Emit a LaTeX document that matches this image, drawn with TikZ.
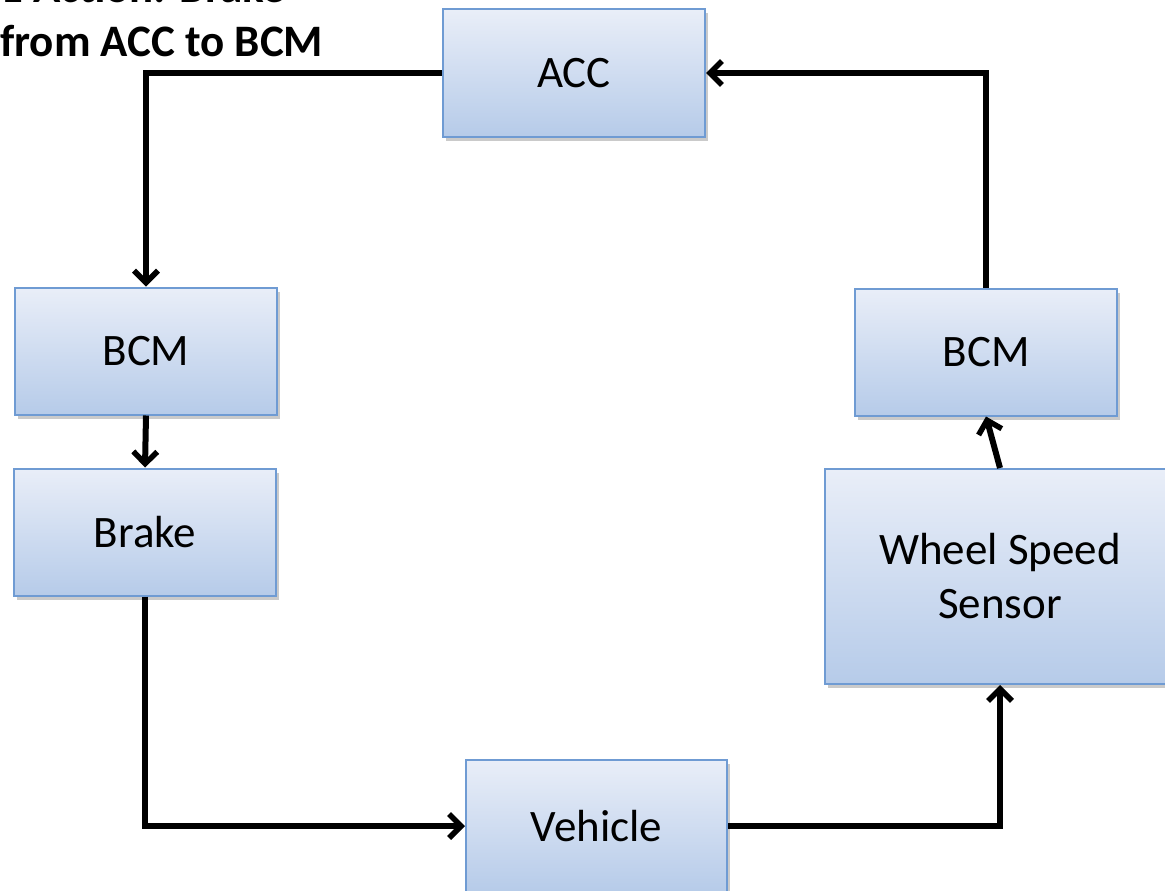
\documentclass[tikz,border=0pt]{standalone}
\usepackage{fontspec}
\setmainfont{Carlito}
\usetikzlibrary{arrows.meta,shadows}
\definecolor{boxtop}{HTML}{E9EEF8}
\definecolor{boxbot}{HTML}{B6CBE9}
\definecolor{boxline}{HTML}{6F9BD3}
\tikzset{
  block/.style={draw=boxline, line width=2pt, top color=boxtop, bottom color=boxbot,
    minimum width=262pt, minimum height=127pt, inner sep=0pt, align=center,
    font=\fontsize{45}{54}\selectfont,
    drop shadow={shadow xshift=3pt, shadow yshift=-4pt, opacity=0.35, fill=black!60}},
  flow/.style={line width=6pt, line join=miter, draw=black,
    -{Straight Barb[length=12pt,width=24pt,line width=5.5pt]}},
  heading/.style={anchor=base west, inner sep=0pt, font=\fontsize{45}{54}\selectfont\bfseries}
}
\begin{document}
\begin{tikzpicture}[x=1pt, y=-1pt]
  \useasboundingbox (0,0) rectangle (1165,891);
  \clip (0,0) rectangle (1165,891);

  % caption in the upper left corner
  \node[heading] (head1) at (0,3) {1 Action: Brake};
  \node[heading] (head2) at (0,57) {from ACC to BCM};

  % blocks
  \node[block] (acc)   at (574,73)  {ACC};
  \node[block] (bcmL)  at (146,351) {BCM};
  \node[block] (brake) at (145,532) {Brake};
  \node[block] (bcmR)  at (986,352) {BCM};
  \node[block, minimum width=350pt, minimum height=215pt] (wss) at (1000,576.5) {Wheel Speed\\Sensor};
  \node[block, minimum width=261pt, minimum height=132pt] (veh) at (596.5,826) {Vehicle};

  % control loop
  \draw[flow] (acc.west) -| (bcmL.north);
  \draw[flow] (bcmL.south) -- (brake.north);
  \draw[flow] (brake.south) |- (veh.west);
  \draw[flow] (veh.east) -| (wss.south);
  \draw[flow] (wss.north) -- (bcmR.south);
  \draw[flow] (bcmR.north) |- (acc.east);
\end{tikzpicture}
\end{document}
